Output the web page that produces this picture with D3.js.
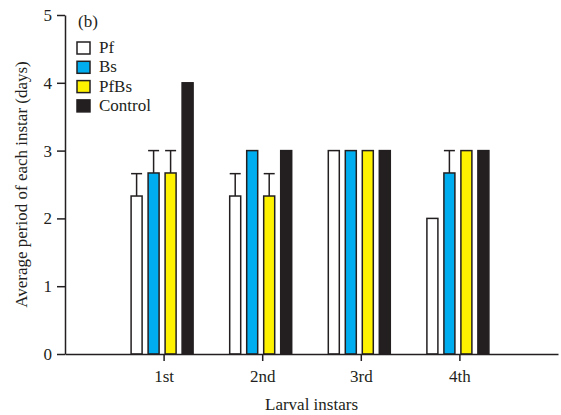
<!DOCTYPE html>
<html>
<head>
<meta charset="utf-8">
<script src="https://cdn.jsdelivr.net/npm/d3@7"></script>
<style>
  body { margin: 0; background: #fff; }
  svg text { font-family: "Liberation Serif", "DejaVu Serif", serif; }
</style>
</head>
<body>
<svg id="chart"></svg>
<script>
var instars = ["1st", "2nd", "3rd", "4th"]
var treatments = ["Pf", "Bs", "PfBs", "Control"]
var colors = ["#ffffff", "#00aeef", "#fff200", "#231f20"]
var pfValues = [2.33, 2.33, 3, 2]
var bsValues = [2.67, 3, 3, 2.67]
var pfbsValues = [2.67, 2.33, 3, 3]
var controlValues = [4, 3, 3, 3]
var pfErr = [0.33, 0.33, 0, 0]
var bsErr = [0.33, 0, 0, 0.33]
var pfbsErr = [0.33, 0.33, 0, 0]
var controlErr = [0, 0, 0, 0]
var yTicks = [0, 1, 2, 3, 4, 5]

var dims = {
    width: 561,
    height: 415,
    margin: { top: 15, bottom: 61, left: 65, right: 3 }
}

var serif = "Liberation Serif, DejaVu Serif, serif"

var svg = d3.select("#chart")
            .attr("width", dims.width)
            .attr("height", dims.height)

var values = [pfValues, bsValues, pfbsValues, controlValues]
var errs = [pfErr, bsErr, pfbsErr, controlErr]

var rows = []
instars.forEach(function(inst, i) {
    treatments.forEach(function(t, j) {
        rows.push({ instar: inst, pos: i + 1, k: j, value: values[j][i], err: errs[j][i] })
    })
})

var xScale = d3.scaleLinear()
               .domain([0, 5])
               .range([dims.margin.left, dims.width - dims.margin.right])

var yScale = d3.scaleLinear()
               .domain([0, 5])
               .range([dims.height - dims.margin.bottom, dims.margin.top])

var barW = 11
var step = 17
var offset = function(k) { return (k - 1.5) * step - 1.5 }

// error bars (upper only)
var errG = svg.append("g")
errG.selectAll("line.stem")
    .data(rows.filter(d => d.err > 0))
    .enter()
    .append("line")
    .attr("x1", d => xScale(d.pos) + offset(d.k))
    .attr("x2", d => xScale(d.pos) + offset(d.k))
    .attr("y1", d => yScale(d.value))
    .attr("y2", d => yScale(d.value + d.err))
    .attr("stroke", "#231f20")
    .attr("stroke-width", 1.5)
errG.selectAll("line.cap")
    .data(rows.filter(d => d.err > 0))
    .enter()
    .append("line")
    .attr("x1", d => xScale(d.pos) + offset(d.k) - barW / 2)
    .attr("x2", d => xScale(d.pos) + offset(d.k) + barW / 2)
    .attr("y1", d => yScale(d.value + d.err))
    .attr("y2", d => yScale(d.value + d.err))
    .attr("stroke", "#231f20")
    .attr("stroke-width", 1.5)

var bars = svg.append("g")
              .selectAll("rect")
              .data(rows)
              .enter()
              .append("rect")
              .attr("x", d => xScale(d.pos) + offset(d.k) - barW / 2)
              .attr("y", d => yScale(d.value))
              .attr("width", barW)
              .attr("height", d => yScale(0) - yScale(d.value))
              .attr("fill", d => colors[d.k])
              .attr("stroke", "#231f20")
              .attr("stroke-width", 1.5)

// axes
var xAxisGen = d3.axisBottom(xScale)
                 .tickValues([1, 2, 3, 4])
                 .tickFormat((d, i) => instars[i])
                 .tickSize(7)
                 .tickSizeOuter(0)
                 .tickPadding(9)
var xAxis = svg.append("g")
               .attr("transform", `translate(0,${yScale(0)})`)
               .call(xAxisGen)

var yAxisGen = d3.axisLeft(yScale)
                 .tickValues(yTicks)
                 .tickFormat(d3.format("d"))
                 .tickSize(8)
                 .tickSizeOuter(0)
                 .tickPadding(5)
var yAxis = svg.append("g")
               .attr("transform", `translate(${dims.margin.left},0)`)
               .call(yAxisGen)

svg.selectAll(".domain, .tick line").attr("stroke", "#231f20").attr("stroke-width", 1.5)
svg.selectAll("g").attr("font-family", serif)
svg.selectAll(".tick text")
   .attr("font-family", serif)
   .attr("font-size", "17px")
   .attr("fill", "#231f20")

svg.append("text")
   .attr("x", (xScale(0) + xScale(5)) / 2)
   .attr("y", 410)
   .attr("text-anchor", "middle")
   .attr("font-family", serif)
   .attr("font-size", "17px")
   .attr("fill", "#231f20")
   .text("Larval instars")

svg.append("text")
   .attr("transform", "rotate(-90)")
   .attr("x", -yScale(2.5))
   .attr("y", 27)
   .attr("text-anchor", "middle")
   .attr("font-family", serif)
   .attr("font-size", "17px")
   .attr("fill", "#231f20")
   .text("Average period of each instar (days)")

// legend
svg.append("text")
   .attr("x", 78)
   .attr("y", 27)
   .attr("font-family", serif)
   .attr("font-size", "17px")
   .attr("fill", "#231f20")
   .text("(b)")

var legend = svg.append("g")
                .selectAll("g")
                .data(treatments)
                .enter()
                .append("g")
                .attr("transform", (d, i) => `translate(77,${42 + i * 19.3})`)
legend.append("rect")
      .attr("width", 13)
      .attr("height", 12)
      .attr("fill", (d, i) => colors[i])
      .attr("stroke", "#231f20")
      .attr("stroke-width", 1.5)
legend.append("text")
      .attr("x", 22)
      .attr("y", 11)
      .attr("font-family", serif)
      .attr("font-size", "17px")
      .attr("fill", "#231f20")
      .text(d => d)
</script>
</body>
</html>
